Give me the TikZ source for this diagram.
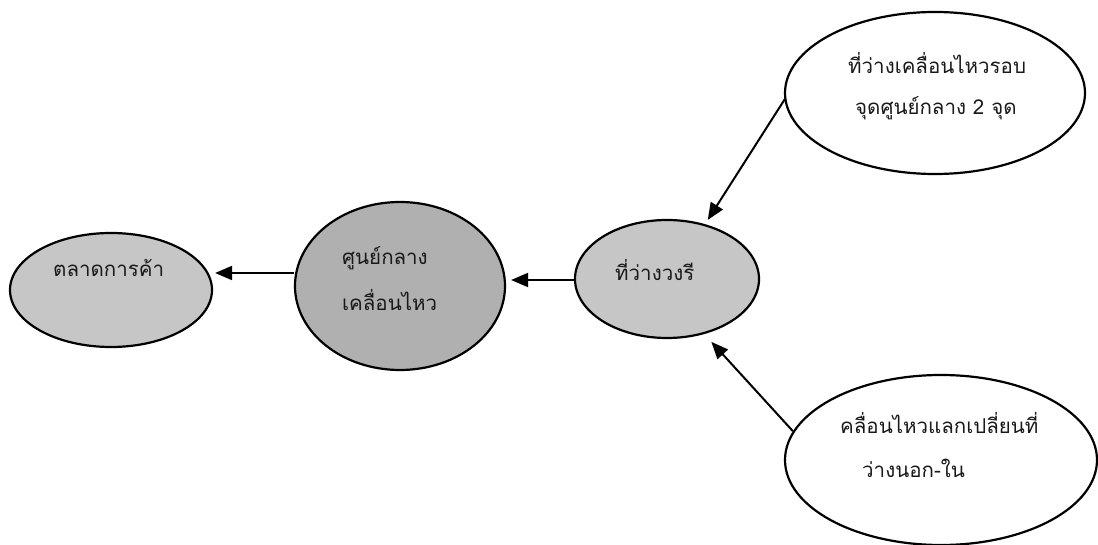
\documentclass[tikz,border=0pt]{standalone}
\usepackage{fontspec}
\newfontfamily\thaifont[Script=Thai]{Loma}
\usetikzlibrary{shapes.geometric,arrows.meta,calc}
\definecolor{lightfill}{RGB}{198,198,198}
\definecolor{darkfill}{RGB}{176,176,176}
\begin{document}
\begin{tikzpicture}[x=1pt,y=-1pt,
  oval/.style={draw=black,line width=2.2pt,ellipse,inner sep=0pt},
  lbl/.style={font=\thaifont\fontsize{20.5}{24}\selectfont,inner sep=0pt,anchor=west,text=black!90},
  arr/.style={line width=2pt,-{Triangle[length=17pt,width=14pt]}}]
\useasboundingbox (0,0) rectangle (1098,545);
\node[oval,fill=lightfill,minimum width=202pt,minimum height=114pt] (e1) at (111,290) {};
\node[oval,fill=darkfill,minimum width=210pt,minimum height=168pt] (e2) at (400,286) {};
\node[oval,fill=lightfill,minimum width=184pt,minimum height=118pt] (e3) at (667,279) {};
\node[oval,fill=white,minimum width=300pt,minimum height=162pt] (e4) at (935,93) {};
\node[oval,fill=white,minimum width=312pt,minimum height=170pt] (e5) at (941,460) {};
\node[lbl] (t1) at (53,268) {ตลาดการค้า};
\node[lbl] (t2a) at (342,258) {ศูนย์กลาง};
\node[lbl] (t2b) at (342,300) {เคลื่อนไหว};
\node[lbl] (t3) at (615,270) {ที่ว่างวงรี};
\node[lbl] (t4a) at (848,63) {ที่ว่างเคลื่อนไหวรอบ};
\node[lbl] (t4b) at (855,108) {จุดศูนย์กลาง 2 จุด};
\node[lbl] (t5a) at (840,423) {คลื่อนไหวแลกเปลี่ยนที่};
\node[lbl] (t5b) at (862,468) {ว่างนอก-ใน};
\draw[arr] (e2.west |- 0,273) -- ($(e1.east |- 0,273)+(2,0)$);
\draw[arr] (e3.west |- 0,280) -- ($(e2.east |- 0,280)+(5,0)$);
\draw[arr] ($(e4.west)+(1,6)$) -- ($(e3.53)+(0,-5)$);
\draw[arr] (e5.169) -- ($(e3.-50)+(0,10)$);
\end{tikzpicture}
\end{document}
